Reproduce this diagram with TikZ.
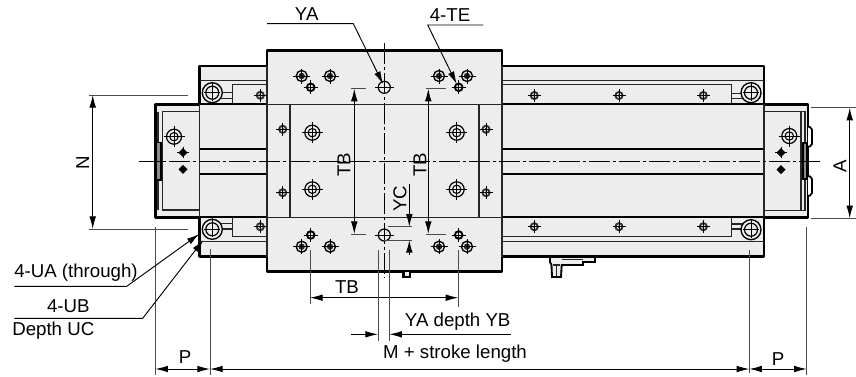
\documentclass[tikz,border=0pt]{standalone}
\usepackage{fontspec}
\setmainfont{Liberation Sans}
\usetikzlibrary{shapes,arrows,arrows.meta,calc}
\definecolor{bodygray}{HTML}{EDEDED}
\tikzstyle{outline} = [draw, line width=2pt, fill=bodygray, line join=round]
\tikzstyle{heavy} = [draw, line width=1.7pt]
\tikzstyle{thin} = [draw, line width=0.9pt, black!85]
\tikzstyle{centerline} = [draw, line width=0.7pt, dash pattern=on 16pt off 2pt on 2.5pt off 2pt]
\tikzstyle{ext} = [draw, line width=0.7pt, black!70]
\tikzstyle{line} = [draw, line width=0.7pt, black]
\tikzstyle{tip} = [-{Latex[length=9.5pt,width=5pt]}]
\tikzstyle{both} = [{Latex[length=9.5pt,width=5pt]}-{Latex[length=9.5pt,width=5pt]}]
\tikzstyle{label} = [font=\fontsize{14}{16}\selectfont, inner sep=0pt]
% hole symbols
\newcommand{\capbolt}[1]{
  \draw [line width=1pt, fill=bodygray] (#1) circle [radius=10];
  \draw [line width=0.9pt] (#1) circle [radius=6.5];
  \draw [line width=0.5pt] ($(#1)+(-8,0)$) -- ($(#1)+(8,0)$) ($(#1)+(0,-11)$) -- ($(#1)+(0,8)$);
}
\newcommand{\target}[1]{
  \draw [line width=0.9pt] (#1) circle [radius=7.5];
  \draw [line width=0.8pt] (#1) circle [radius=4.2];
  \draw [line width=0.5pt] ($(#1)+(-10.5,0)$) -- ($(#1)+(10.5,0)$) ($(#1)+(0,-10.5)$) -- ($(#1)+(0,10.5)$);
}
\newcommand{\smallscrew}[1]{
  \fill [black!80] (#1) circle [radius=4.6];
  \fill [bodygray] (#1) circle [radius=2.4];
  \fill [black] (#1) circle [radius=1.4];
  \draw [line width=0.6pt] ($(#1)+(-6.5,0)$) -- ($(#1)+(6.5,0)$) ($(#1)+(0,-6.5)$) -- ($(#1)+(0,6.5)$);
}
\newcommand{\plateScrew}[1]{
  \draw [line width=1pt] (#1) circle [radius=5.5];
  \fill [black!85] (#1) circle [radius=3.2];
  \draw [line width=0.6pt] ($(#1)+(-8.5,0)$) -- ($(#1)+(8.5,0)$) ($(#1)+(0,-7.5)$) -- ($(#1)+(0,7.5)$);
}
\newcommand{\plusScrew}[1]{
  \draw [line width=1.4pt] (#1) circle [radius=3.8];
  \draw [line width=0.7pt] ($(#1)+(-7,0)$) -- ($(#1)+(7,0)$) ($(#1)+(0,-7)$) -- ($(#1)+(0,7)$);
}
\newcommand{\diamondDot}[1]{
  \fill (#1) ++(-4.5,0) -- ++(4.5,-4.5) -- ++(4.5,4.5) -- ++(-4.5,4.5) -- cycle;
}
\begin{document}
\begin{tikzpicture}[x=0.75pt, y=-0.75pt]
  \useasboundingbox (0,0) rectangle (856,376);

  % silhouette
  \path [outline] (155.3,104.3) -- (199.5,104.3) -- (199.5,66) -- (267,66) -- (267,50.7) -- (502,50.7)
    -- (502,66) -- (764,66) -- (764,104.3) -- (808,104.3) -- (808,217.3) -- (764,217.3) -- (764,256.7)
    -- (502,256.7) -- (502,271.7) -- (267,271.7) -- (267,256.7) -- (199.5,256.7) -- (199.5,217.3)
    -- (155.3,217.3) -- cycle;

  % rail and slots
  \path [heavy] (199.5,104.3) -- (267,104.3) (502,104.3) -- (764,104.3);
  \path [heavy] (199.5,217.3) -- (267,217.3) (502,217.3) -- (764,217.3);
  \path [heavy] (199.5,149) -- (267,149) (502,149) -- (764,149);
  \path [heavy] (199.5,174) -- (267,174) (502,174) -- (764,174);

  % carriage
  \path [thin] (199.5,104.3) -- (199.5,217.3) (764,104.3) -- (764,217.3);
  \path [thin] (267,66) -- (267,256.7) (502,66) -- (502,256.7);
  \path [thin] (267,104.3) -- (502,104.3) (267,217.8) -- (502,217.8);
  \path [thin] (290,104.3) -- (290,217.8) (479,104.3) -- (479,217.8);

  % strips
  \path [thin] (199.5,80.7) -- (267,80.7) (502,80.7) -- (764,80.7);
  \path [thin] (199.5,241.7) -- (267,241.7) (502,241.7) -- (764,241.7);
  \path [thin] (267,84.7) -- (232.3,84.7) -- (232.3,104.3);
  \path [thin] (267,236.7) -- (232.3,236.7) -- (232.3,217.3);
  \path [thin] (502,84.7) -- (731.5,84.7) -- (731.5,104.3);
  \path [thin] (502,236.7) -- (731.5,236.7) -- (731.5,217.3);
  \path [thin] (212,92.7) -- (232.3,92.7) (212,98.3) -- (232.3,98.3);
  \path [thin] (212,223.3) -- (232.3,223.3) (212,229) -- (232.3,229);
  \path [thin] (731.5,93.3) -- (751,93.3) (731.5,98.3) -- (751,98.3);
  \path [thin] (731.5,224) -- (751,224) (731.5,229) -- (751,229);

  % end plates
  \path [thin] (199.5,111.7) -- (162.7,111.7) -- (162.7,210) -- (199.5,210);
  \path [thin] (158,111.7) -- (158,210);
  \path [thin] (764,111.7) -- (805,111.7) -- (805,210.7) -- (764,210.7);
  \path [thin] (801,111.7) -- (801,210.7);
  \draw [line width=0.8pt, fill=black!45] (156.7,142.7) rectangle (161,180);
  \draw [line width=0.9pt, fill=black!45] (803,143) rectangle (806.5,179);
  \draw [line width=1.7pt] (155.3,145) -- (155.3,177) (807.3,145) -- (807.3,177);
  \draw [line width=1.3pt, fill=white, rounded corners=1.5pt] (808,126.7) -- (812,127.5) -- (812,146) -- (808,146.7);
  \draw [line width=1.3pt, fill=white, rounded corners=1.5pt] (808,176) -- (812,177) -- (812,195) -- (808,196);

  % bottom fittings
  \draw [line width=1.6pt, fill=bodygray] (403.5,271.7) -- (403.5,277) -- (410,277) -- (410,271.7);
  \draw [line width=1.4pt, fill=bodygray] (550,257) -- (595,257) -- (595,262) -- (583,262) -- (583,265) -- (561.7,265) -- (561,277) -- (552,277) -- (551.5,265) -- (550,262) -- cycle;
  \path [thin] (561.7,259.5) -- (583,259.5) (553,265) -- (560,265) (556.5,265) -- (556.5,277);

  % holes
  \capbolt{212.3,92.7} \capbolt{212.3,229.3} \capbolt{751,92.7} \capbolt{751,229.7}
  \target{174,136.7} \target{789.3,136}
  \target{312.3,132.7} \target{312.3,189.3} \target{456.7,132.7} \target{456.7,189.3}
  \smallscrew{260.3,95.3} \smallscrew{534.3,95.5} \smallscrew{619,95.5} \smallscrew{703.3,95.5}
  \smallscrew{260.3,226.7} \smallscrew{534.3,226.7} \smallscrew{619,226.7} \smallscrew{703.3,226.7}
  \smallscrew{282.7,129.3} \smallscrew{486,129.3} \smallscrew{282.7,192.7} \smallscrew{486,192.7}
  \plateScrew{301.7,76} \plateScrew{330,76} \plateScrew{439,76} \plateScrew{467,76}
  \plateScrew{301.7,246.7} \plateScrew{330,246.7} \plateScrew{439,246.7} \plateScrew{467,246.7}
  \plusScrew{310.7,87.3} \plusScrew{458.7,87.3} \plusScrew{310.7,235} \plusScrew{458.7,235}
  \diamondDot{183,152.7} \diamondDot{183,169.3} \diamondDot{781,152.7} \diamondDot{781,169.7}
  \draw [line width=0.5pt] (177,152.7) -- (189,152.7) (183,147) -- (183,158) (775,152.7) -- (787,152.7) (781,147) -- (781,158);

  % YA holes
  \draw [line width=0.9pt] (384.3,87.3) circle [radius=6];
  \draw [line width=0.9pt] (384.3,235) circle [radius=6];
  \draw [line width=0.5pt] (375,87.3) -- (394,87.3) (375,235) -- (394,235);

  % center lines
  \coordinate (axis_l) at (139,161);
  \coordinate (axis_r) at (822,161);
  \coordinate (axis_t) at (384.3,43);
  \coordinate (axis_b) at (384.3,278);
  \path [centerline] (axis_l) -- (axis_r);
  \path [centerline] (axis_t) -- (axis_b);

  % N and A
  \coordinate (n_a) at (89,95);
  \coordinate (n_b) at (188.3,95);
  \coordinate (n_c) at (89,229);
  \coordinate (n_d) at (188.3,229);
  \coordinate (n_t) at (92.7,95);
  \coordinate (n_u) at (92.7,229);
  \coordinate (a_a) at (810.7,107.7);
  \coordinate (a_b) at (856,107.7);
  \coordinate (a_c) at (810.7,218.3);
  \coordinate (a_d) at (856,218.3);
  \coordinate (a_t) at (849.7,107.7);
  \coordinate (a_u) at (849.7,218.3);
  \path [ext] (n_a) -- (n_b);
  \path [ext] (n_c) -- (n_d);
  \path [ext] (a_a) -- (a_b);
  \path [ext] (a_c) -- (a_d);
  \path [line, both] (n_t) -- (n_u);
  \path [line, both] (a_t) -- (a_u);
  \node [label, rotate=90] (n_lab) at (82.7,162.3) {N};
  \node [label, rotate=90] (a_lab) at (840,166.7) {A};

  % TB
  \coordinate (tba_a) at (351,88.7);
  \coordinate (tba_b) at (366,88.7);
  \coordinate (tba_c) at (351,234);
  \coordinate (tba_d) at (366,234);
  \coordinate (tba_t) at (354.3,88.7);
  \coordinate (tba_u) at (354.3,234);
  \coordinate (tbb_a) at (425.7,88.7);
  \coordinate (tbb_b) at (445.7,88.7);
  \coordinate (tbb_c) at (425.7,234);
  \coordinate (tbb_d) at (445.7,234);
  \coordinate (tbb_t) at (428.3,88.7);
  \coordinate (tbb_u) at (428.3,234);
  \path [ext] (tba_a) -- (tba_b);
  \path [ext] (tba_c) -- (tba_d);
  \path [ext] (tbb_a) -- (tbb_b);
  \path [ext] (tbb_c) -- (tbb_d);
  \path [line, both] (tba_t) -- (tba_u);
  \path [line, both] (tbb_t) -- (tbb_u);
  \node [label, rotate=90] (tba_lab) at (344,165) {TB};
  \node [label, rotate=90] (tbb_lab) at (420,165) {TB};

  % YC
  \coordinate (yc_a) at (388,226.7);
  \coordinate (yc_b) at (411.7,226.7);
  \coordinate (yc_c) at (384.3,240);
  \coordinate (yc_d) at (411.7,240);
  \coordinate (yc_t) at (409.3,184);
  \coordinate (yc_u) at (409.3,226.7);
  \coordinate (yc_v) at (409.3,255);
  \coordinate (yc_w) at (409.3,240);
  \path [ext] (yc_a) -- (yc_b);
  \path [ext] (yc_c) -- (yc_d);
  \path [line, tip] (yc_t) -- (yc_u);
  \path [line, tip] (yc_v) -- (yc_w);
  \node [label, rotate=90] (yc_lab) at (400,199) {YC};

  % TB below
  \coordinate (tbc_a) at (310,250);
  \coordinate (tbc_b) at (310,304);
  \coordinate (tbc_c) at (458.3,250);
  \coordinate (tbc_d) at (458.3,307);
  \coordinate (tbc_t) at (310,297.7);
  \coordinate (tbc_u) at (458.3,297.7);
  \path [ext] (tbc_a) -- (tbc_b);
  \path [ext] (tbc_c) -- (tbc_d);
  \path [line, both] (tbc_t) -- (tbc_u);
  \node [label] (tbc_lab) at (347,287) {TB};

  % YA depth
  \coordinate (yb_a) at (378,250);
  \coordinate (yb_b) at (378,341);
  \coordinate (yb_c) at (389.3,250);
  \coordinate (yb_d) at (389.3,341);
  \coordinate (yb_t) at (351,334.3);
  \coordinate (yb_u) at (378,334.3);
  \coordinate (yb_v) at (510.7,334.3);
  \coordinate (yb_w) at (389.3,334.3);
  \path [ext] (yb_a) -- (yb_b);
  \path [ext] (yb_c) -- (yb_d);
  \path [line, tip] (yb_t) -- (yb_u);
  \path [line, tip] (yb_v) -- (yb_w);
  \node [label] (yb_lab) at (457.7,321.7) {YA depth YB};

  % bottom dimensions
  \coordinate (p_a) at (155.3,226.7);
  \coordinate (p_b) at (155.3,375);
  \coordinate (p_c) at (210,249.3);
  \coordinate (p_d) at (210,375);
  \coordinate (p_e) at (749.3,250);
  \coordinate (p_f) at (749.3,373);
  \coordinate (p_g) at (806.7,226.7);
  \coordinate (p_h) at (806.7,375);
  \coordinate (p_t) at (155.3,369);
  \coordinate (p_u) at (210,369);
  \coordinate (p_v) at (749.3,369);
  \coordinate (p_w) at (806.7,369);
  \path [ext] (p_a) -- (p_b);
  \path [ext] (p_c) -- (p_d);
  \path [ext] (p_e) -- (p_f);
  \path [ext] (p_g) -- (p_h);
  \path [line, both] (p_t) -- (p_u);
  \path [line, both] (p_u) -- (p_v);
  \path [line, both] (p_v) -- (p_w);
  \node [label] (pl_lab) at (185,356.7) {P};
  \node [label] (pr_lab) at (778,359) {P};
  \node [label] (m_lab) at (455,354) {M + stroke length};

  % leaders
  \coordinate (ya_a) at (267,23.7);
  \coordinate (ya_b) at (353.3,23.7);
  \coordinate (ya_c) at (383,84);
  \coordinate (te_a) at (483.3,25);
  \coordinate (te_b) at (427.7,25);
  \coordinate (te_c) at (456.7,84);
  \coordinate (ua_a) at (14.3,286.3);
  \coordinate (ua_b) at (126.7,286.3);
  \coordinate (ua_c) at (199.3,234);
  \coordinate (ub_a) at (14.3,318.3);
  \coordinate (ub_b) at (142.7,318.3);
  \coordinate (ub_c) at (203.3,240);
  \path [line, tip] (ya_a) -- (ya_b) -- (ya_c);
  \path [line, tip] (te_a) -- (te_b) -- (te_c);
  \path [line, tip] (ua_a) -- (ua_b) -- (ua_c);
  \path [line, tip] (ub_a) -- (ub_b) -- (ub_c);
  \node [label] (ya_lab) at (306.7,14) {YA};
  \node [label] (te_lab) at (450,15) {4-TE};
  \node [label] (ua_lab) at (76,273) {4-UA (through)};
  \node [label] (ub_lab) at (68.3,306) {4-UB};
  \node [label] (uc_lab) at (53.3,330.7) {Depth UC};
\end{tikzpicture}
\end{document}
